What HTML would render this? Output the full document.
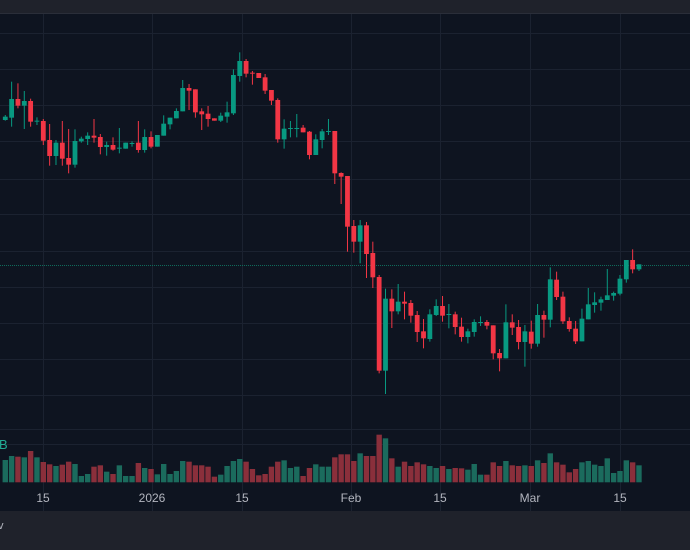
<!DOCTYPE html>
<html><head><meta charset="utf-8"><style>
html,body{margin:0;padding:0;background:#0e1420;}
#c{position:relative;width:690px;height:550px;overflow:hidden;background:#0e1420;font-family:"Liberation Sans",sans-serif;}
.lbl{position:absolute;top:491px;color:#b2b5be;font-size:12px;transform:translateX(-50%);}
</style></head><body>
<div id="c">
<svg id="s" width="690" height="550" style="position:absolute;left:0;top:0">
<rect x="0" y="0" width="690" height="13" fill="#1f222b"/>
<rect x="0" y="13" width="690" height="1" fill="#2a2e39"/>
<rect x="0" y="511" width="690" height="39" fill="#1f222b"/>
<g id="grid" stroke="#1b2230" stroke-width="1"></g>
<line x1="0" y1="265.5" x2="690" y2="265.5" stroke="#0f6b5b" stroke-width="1" stroke-dasharray="1,1"/>
<g id="vol"></g>
<g id="cand"></g>
</svg>
<div style="position:absolute;left:-1px;top:437px;color:#22ab94;font-size:13px;">B</div>
<div class="lbl" style="left:43px">15</div>
<div class="lbl" style="left:152px">2026</div>
<div class="lbl" style="left:242px">15</div>
<div class="lbl" style="left:351px">Feb</div>
<div class="lbl" style="left:440px">15</div>
<div class="lbl" style="left:530px">Mar</div>
<div class="lbl" style="left:620px">15</div>
<div style="position:absolute;left:-2px;top:520px;color:#b2b5be;font-size:11px;">v</div>
</div>
<script>
var NS="http://www.w3.org/2000/svg";
function el(p,t,a){var e=document.createElementNS(NS,t);for(var k in a)e.setAttribute(k,a[k]);p.appendChild(e);}
var g=document.getElementById('grid');
[33,69,105,141,179,214,251,287,323,359,395,429,444].forEach(function(y){el(g,'line',{x1:0,x2:690,y1:y+.5,y2:y+.5});});
[43,152,242,351,440,530,620].forEach(function(x){el(g,'line',{x1:x+.5,x2:x+.5,y1:14,y2:511});});
var d=`g 350 360 345 362
g 297 353 245 380
r 297 317 250 325
g 303 317 273 387
r 303 365 296 380
g 362 364 352 375
r 363 422 357 435
r 420 468 372 497
g 428 468 420 495
r 428 476 363 497
r 474 494 387 520
g 423 494 388 503
g 416 424 410 428
g 407 417 397 435
r 407 413 357 428
r 411 441 402 463
g 435 441 425 467
r 435 449 412 452
g 443 445 384 460
g 428 446 428 446
g 429 431 424 440
r 428 450 363 458
g 411 450 388 458
r 411 440 394 445
g 405 440 405 440
g 371 407 346 407
g 353 373 353 388
g 333 355 325 355
g 264 334 240 334
r 264 272 252 330
r 268 337 268 353
r 334 343 325 390
r 341 357 318 380
r 355 362 355 362
g 347 362 338 366
g 337 350 305 368
g 225 340 208 345
g 183 228 157 245
r 183 221 177 232
r 218 220 213 254
r 219 234 219 234
r 232 272 222 282
r 270 302 270 315
r 300 418 295 428
g 386 418 358 446
g 384 386 363 412
g 384 386 342 412
r 383 397 375 397
r 395 465 393 478
g 418 465 403 465
g 394 420 387 445
g 393 395 357 405
r 393 520 393 552
r 519 530 517 612
r 528 680 528 755
r 678 725 660 758
g 676 725 660 790
r 676 762 666 834
r 759 832 725 864
r 831 1112 825 1120
g 896 1112 866 1182
r 896 934 868 984
g 905 934 852 943
r 905 911 875 958
r 909 947 900 968
r 945 996 933 1026
r 994 1015 957 1045
g 943 1017 928 1025
g 918 945 898 948
r 918 947 888 965
g 942 944 912 985
r 943 981 935 1003
r 980 1011 953 1025
g 994 1011 986 1030
g 966 996 958 1010
g 966 968 949 978
r 966 977 960 988
r 976 1060 976 1078
r 1059 1075 1047 1114
g 967 1075 913 1075
r 967 983 943 1005
r 981 1026 960 1048
g 994 1026 975 1100
r 995 1031 962 1046
g 945 1031 912 1040
r 945 959 932 1013
g 838 959 802 982
r 839 891 815 900
r 890 964 875 972
r 963 987 952 995
r 986 1024 963 1032
g 956 1024 926 1024
g 913 958 864 958
g 907 915 877 938
g 898 908 890 932
g 886 900 807 900
g 879 887 875 902
g 836 881 825 886
g 780 838 780 848
r 780 808 748 820
g 793 808 793 813`.split('\n');
var vt=[180,168,170,172,153,172,186,193,198,194,185,192,228,222,200,196,215,222,196,228,228,189,204,207,223,192,222,213,183,185,196,196,200,230,224,198,183,177,185,207,226,222,200,185,181,204,200,228,204,193,200,200,172,163,163,183,160,168,168,104,115,175,200,185,198,187,193,198,204,198,207,204,205,209,192,224,224,187,198,183,196,198,196,198,181,189,160,187,194,217,207,187,183,194,198,175,219,213,181,187,196];
var C=document.getElementById('cand'),V=document.getElementById('vol');
d.forEach(function(line,i){
 var p=line.trim().split(/\s+/);var col=p[0]=='g'?'#089981':'#f23645';var vc=p[0]=='g'?'#1b6b5d':'#8a2f3b';
 var x=5.28+6.337*i;
 var bt=+p[1]/3,bb=+p[2]/3,wt=+p[3]/3,wb=+p[4]/3;
 el(C,'rect',{x:(x-0.5).toFixed(2),y:wt.toFixed(2),width:1,height:Math.max(1,wb-wt).toFixed(2),fill:col});
 el(C,'rect',{x:(x-2.4).toFixed(2),y:bt.toFixed(2),width:4.8,height:Math.max(1,bb-bt).toFixed(2),fill:col});
 var top=400+vt[i]/3;
 el(V,'rect',{x:(x-2.7).toFixed(2),y:top.toFixed(2),width:5.4,height:(482.3-top).toFixed(2),fill:vc});
});
</script>
</body></html>
